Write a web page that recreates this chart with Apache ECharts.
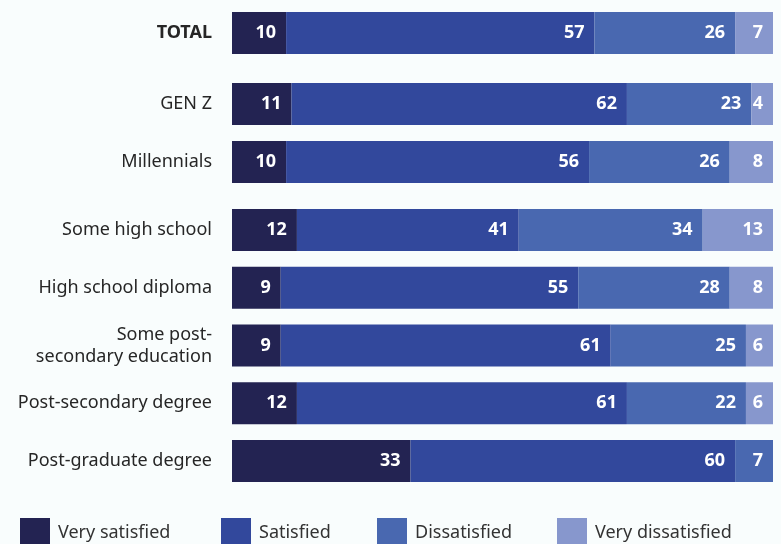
<!DOCTYPE html>
<html>
<head>
<meta charset="utf-8">
<script src="https://cdn.jsdelivr.net/npm/echarts@6/dist/echarts.min.js"></script>
<style>
  html, body { margin: 0; padding: 0; background: #f9fdfd; }
  #chart { width: 781px; height: 544px; }
</style>
</head>
<body>
<div id="chart"></div>
<script>
// three blocks of rows, each in its own grid so the gaps between blocks differ
let groups = [
    ['TOTAL'],
    ['GEN Z', 'Millennials'],
    ['Some high school', 'High school diploma', 'Some post-\nsecondary education', 'Post-secondary degree', 'Post-graduate degree']
];
let seriesNames = ['Very satisfied', 'Satisfied', 'Dissatisfied', 'Very dissatisfied'];
let verySatisfied = [[10], [11, 10], [12, 9, 9, 12, 33]];
let satisfied = [[57], [62, 56], [41, 55, 61, 61, 60]];
let dissatisfied = [[26], [23, 26], [34, 28, 25, 22, 7]];
let veryDissatisfied = [[7], [4, 8], [13, 8, 6, 6, null]];

let colors = ['#232352', '#32489c', '#4968b0', '#8797cd'];
let seriesData = [verySatisfied, satisfied, dissatisfied, veryDissatisfied];
let legendLeft = [15, 216, 372, 552];

let grids = [
    { left: 232, width: 541, top: 4, height: 58 },
    { left: 232, width: 541, top: 75, height: 116 },
    { left: 232, width: 541, top: 201, height: 289 }
];

let xAxes = [], yAxes = [], series = [];
groups.forEach(function (cats, g) {
    xAxes.push({ gridIndex: g, type: 'value', min: 0, max: 100, show: false });
    yAxes.push({
        gridIndex: g,
        type: 'category',
        inverse: true,
        data: cats,
        axisLine: { show: false },
        axisTick: { show: false },
        axisLabel: {
            margin: 20,
            color: '#262626',
            fontFamily: 'Noto Sans',
            fontSize: 18,
            lineHeight: 22,
            padding: [3, 0, 0, 0],
            fontWeight: g === 0 ? 'bold' : 'normal'
        }
    });
    seriesNames.forEach(function (name, i) {
        series.push({
            name: name,
            type: 'bar',
            stack: 'g' + g,
            xAxisIndex: g,
            yAxisIndex: g,
            barWidth: 42,
            color: colors[i],
            data: seriesData[i][g],
            label: {
                show: true,
                position: 'insideRight',
                distance: 10,
                color: '#fff',
                fontFamily: 'Noto Sans',
                fontWeight: 'bold',
                fontSize: 18
            }
        });
    });
});

let legends = seriesNames.map(function (name, i) {
    return {
        data: [name],
        left: legendLeft[i],
        top: 513,
        itemWidth: 30,
        itemHeight: 30,
        icon: 'rect',
        textStyle: { color: '#333', fontFamily: 'Noto Sans', fontSize: 18, padding: [6, 0, 0, 3] }
    };
});

let option = {
    backgroundColor: '#f9fdfd',
    animation: false,
    color: colors,
    legend: legends,
    grid: grids,
    xAxis: xAxes,
    yAxis: yAxes,
    series: series
};
echarts.init(document.getElementById('chart')).setOption(option);
</script>
</body>
</html>
